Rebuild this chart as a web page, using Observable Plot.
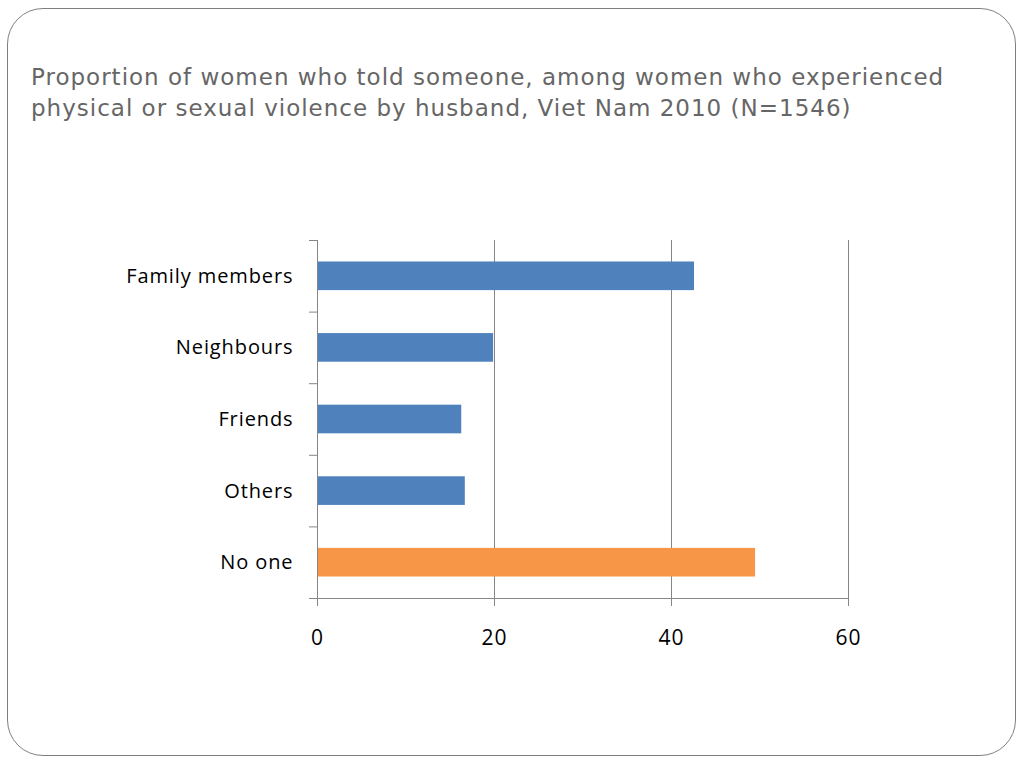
<!DOCTYPE html>
<html>
<head>
<meta charset="utf-8">
<script src="https://cdn.jsdelivr.net/npm/d3@7"></script>
<script src="https://cdn.jsdelivr.net/npm/@observablehq/plot@0.6"></script>
<style>
  html, body { margin: 0; padding: 0; background: #fff; }
  #page { position: relative; width: 1024px; height: 768px; overflow: hidden; }
  #frame { position: absolute; left: 7px; top: 8px; width: 1009px; height: 748px;
           border: 1px solid #7f7f7f; border-radius: 36px; box-sizing: border-box; }
  #title { position: absolute; left: 31px; top: 62px; margin: 0; font-family: "DejaVu Sans", sans-serif;
           font-weight: normal; font-size: 23px; line-height: 31px; color: #666666; letter-spacing: 1.0px; }
  #chart { position: absolute; left: 0; top: 0; }
</style>
</head>
<body>
<div id="page">
  <div id="frame"></div>
  <h1 id="title">Proportion of women who told someone, among women who experienced<br>physical or sexual violence by husband, Viet Nam 2010 (N=1546)</h1>
  <div id="chart"></div>
</div>
<script>
const categories = ["Family members", "Neighbours", "Friends", "Others", "No one"];
const values = [42.6, 19.9, 16.3, 16.7, 49.5];
const colors = ["#4F81BD", "#4F81BD", "#4F81BD", "#4F81BD", "#F79646"];
const xTicks = [0, 20, 40, 60];

const data = categories.map((c, i) => ({ category: c, index: i, value: values[i], color: colors[i] }));
const bandEdges = d3.range(categories.length + 1);
const bandCenters = categories.map((c, i) => i + 0.5);

const gray = "#868686";

const chart = Plot.plot({
  width: 1024,
  height: 768,
  marginLeft: 317,
  marginRight: 176,
  marginTop: 240,
  marginBottom: 170,
  style: { fontFamily: "'Open Sans', sans-serif", background: "transparent", overflow: "visible", letterSpacing: "0.9px" },
  x: { domain: [0, 60] },
  y: { domain: [0, categories.length], range: [240, 598] },
  marks: [
    Plot.gridX(xTicks.filter(t => t > 0), { stroke: gray, strokeOpacity: 1, strokeWidth: 1 }),
    Plot.rectX(data, {
      x1: 0, x2: "value",
      y1: d => d.index + 0.3, y2: d => d.index + 0.7,
      fill: "color"
    }),
    Plot.ruleX([0], { stroke: gray, strokeWidth: 1 }),
    Plot.ruleY([categories.length], { stroke: gray, strokeWidth: 1 }),
    Plot.axisY(bandEdges, { tickSize: 8, text: null, stroke: gray, label: null }),
    Plot.axisY(bandCenters, {
      tickSize: 0, tickPadding: 24, label: null,
      tickFormat: d => categories[Math.floor(d)],
      fontSize: 20, fill: "#000"
    }),
    Plot.axisX(xTicks, {
      tickSize: 8, tickPadding: 24, stroke: gray, label: null,
      fontSize: 21, fill: "#000", tickFormat: d => String(d)
    })
  ]
});
document.getElementById("chart").appendChild(chart);
</script>
</body>
</html>
